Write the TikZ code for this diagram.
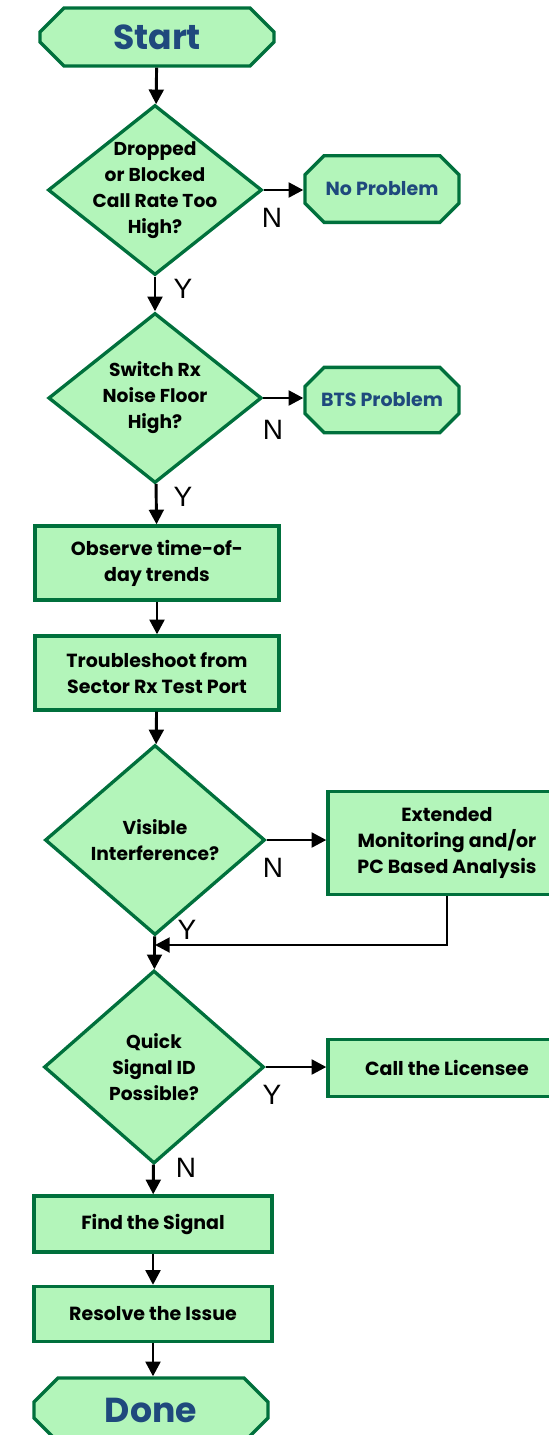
\documentclass[tikz,border=0pt]{standalone}
\usepackage{fontspec}
\setmainfont{Poppins}
\newfontfamily\ynfont{Liberation Sans}
\usetikzlibrary{shapes.geometric, shapes.misc, arrows.meta}
\definecolor{boxgreen}{RGB}{179,245,186}
\definecolor{edgegreen}{RGB}{0,112,60}
\definecolor{termblue}{RGB}{31,73,125}

\begin{document}
\begin{tikzpicture}[x=0.75pt, y=-0.75pt,
    term/.style={chamfered rectangle, chamfered rectangle xsep=9pt, chamfered rectangle ysep=9pt, draw=edgegreen, line width=2.5pt, fill=boxgreen, inner sep=0pt, align=center, text=termblue, font=\fontsize{14.25}{19.5}\selectfont\bfseries},
    bigterm/.style={term, minimum width=175.5pt, font=\fontsize{26}{30}\selectfont\bfseries},
    stepbox/.style={rectangle, draw=edgegreen, line width=2.5pt, fill=boxgreen, inner sep=0pt, align=center, minimum width=183pt, font=\fontsize{14.25}{19.5}\selectfont\bfseries},
    decision/.style={diamond, draw=edgegreen, line width=2.5pt, fill=boxgreen, inner sep=-14pt, align=center, font=\fontsize{14}{19.5}\selectfont\bfseries},
    arr/.style={-{Triangle[length=11pt, width=11pt]}, line width=2.2pt},
    yn/.style={font=\ynfont\fontsize{21}{21}\selectfont}
]
\useasboundingbox (0,0) rectangle (549,1435);
\clip (0,0) rectangle (549,1435);

% main column
\node[bigterm, minimum height=43.5pt] (start) at (157,37) {Start};
\node[decision, minimum width=160.5pt, minimum height=127.5pt] (d1) at (155,190) {Dropped\\or Blocked\\Call Rate Too\\High?};
\node[decision, minimum width=160pt, minimum height=127.5pt] (d2) at (155,398) {Switch Rx\\Noise Floor\\High?};
\node[stepbox, minimum height=55.5pt] (observe) at (157,563) {Observe time-of-\\day trends};
\node[stepbox, minimum height=55.5pt] (trouble) at (157,673) {Troubleshoot from\\Sector Rx Test Port};
\node[decision, minimum width=165pt, minimum height=142.5pt] (d3) at (155,840) {Visible\\Interference?};
\node[decision, minimum width=165pt, minimum height=144.75pt] (d4) at (154,1067) {Quick\\Signal ID\\Possible?};
\node[stepbox, minimum width=178.5pt, minimum height=42pt] (find) at (153,1224) {Find the Signal};
\node[stepbox, minimum width=178.5pt, minimum height=41.25pt] (resolve) at (153,1314) {Resolve the Issue};
\node[bigterm, minimum height=48pt] (done) at (151,1410) {Done};

% side branches
\node[term, minimum width=115.5pt, minimum height=50pt] (noprob) at (382,189) {No Problem};
\node[term, minimum width=115.5pt, minimum height=49pt] (bts) at (382,400) {BTS Problem};
\node[stepbox, minimum width=178.5pt, minimum height=77.25pt] (ext) at (447,843) {Extended\\Monitoring and/or\\PC Based Analysis};
\node[stepbox, minimum width=178.5pt, minimum height=42.75pt] (call) at (447,1068) {Call the Licensee};
\coordinate (join) at (155,945);

\draw[arr] (start) -- (d1);
\draw[arr] (d1) -- (d2);
\draw[arr] (d2) -- (observe);
\draw[arr] (observe) -- (trouble);
\draw[arr] (trouble) -- (d3);
\draw[arr] (d3) -- (d4);
\draw[arr] (d4) -- (find);
\draw[arr] (find) -- (resolve);
\draw[arr] (resolve.south) -- (resolve.south |- done.north);

\draw[arr] (d1.east) -- (d1.east -| noprob.west);
\draw[arr] (d2.east) -- (d2.east -| bts.west);
\draw[arr] (d3.east) -- (d3.east -| ext.west);
\draw[arr] (d4.east) -- (d4.east -| call.west);
\draw[arr] (ext.south) |- (join);

% Y / N labels
\node[yn] (n1) at (272,218) {N};
\node[yn] (y1) at (183,289) {Y};
\node[yn] (n2) at (273,430) {N};
\node[yn] (y2) at (183,497) {Y};
\node[yn] (n3) at (273,868) {N};
\node[yn] (y3) at (187,930) {Y};
\node[yn] (y4) at (272,1095) {Y};
\node[yn] (n4) at (186,1168) {N};
\end{tikzpicture}
\end{document}
